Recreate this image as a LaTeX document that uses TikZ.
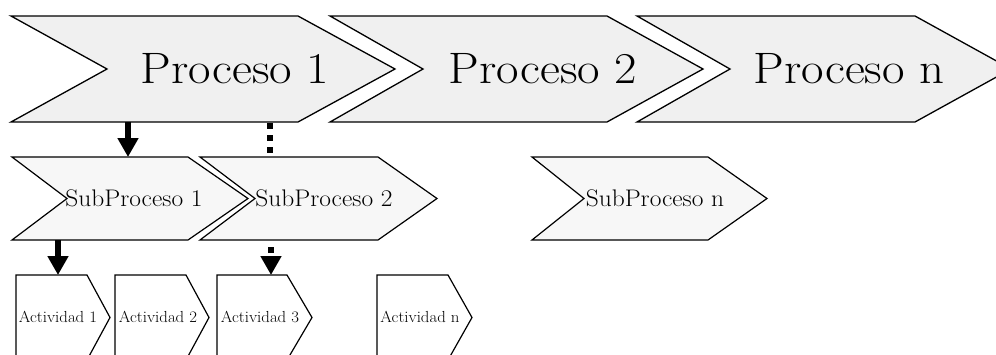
\documentclass[tikz,border=0pt]{standalone}
\usetikzlibrary{arrows.meta}
\newcommand\chevshape[7]{%
  \draw[#7] (#1,#5) -- (#3,#5) -- ({#3+#4},{(#5+#6)/2}) -- (#3,#6) -- (#1,#6) -- ({#1+#2},{(#5+#6)/2}) -- cycle;}
\newcommand\wide[2]{\scalebox{#1}[1]{#2}}
\begin{document}
\begin{tikzpicture}[x=1pt,y=-1pt,
  proc/.style={draw=black,line width=1.3pt,fill=gray!12},
  subp/.style={draw=black,line width=1.2pt,fill=gray!6},
  actv/.style={draw=black,line width=1.2pt,fill=white},
  ptext/.style={inner sep=0pt,font=\fontsize{44}{50}\selectfont},
  stext/.style={inner sep=0pt,font=\fontsize{24}{28}\selectfont},
  atext/.style={inner sep=0pt,font=\fontsize{16}{18}\selectfont},
  solidarrow/.style={line width=5.5pt,-{Triangle[width=20pt,length=19pt]}},
  dotline/.style={line width=6pt,dash pattern=on 6pt off 6pt},
  dotarrow/.style={line width=6pt,dash pattern=on 6pt off 6pt,dash phase=6pt,-{Triangle[width=20pt,length=19pt]}}]
\useasboundingbox (0,0) rectangle (996,354);
\begin{scope}
\clip (0,0) rectangle (996,354);
% processes
\chevshape{11}{96}{298}{97}{16}{122}{proc}
\chevshape{330}{93}{607}{96}{16}{122}{proc}
\chevshape{637}{93}{915}{96}{16}{122}{proc}
\node[ptext] (p1) at (235,69) {\wide{1.11}{Proceso 1}};
\node[ptext] (p2) at (543,69) {\wide{1.11}{Proceso 2}};
\node[ptext] (pn) at (849,69) {\wide{1.11}{Proceso n}};
% subprocesses
\chevshape{12}{55}{188}{60}{157}{240}{subp}
\chevshape{200}{55}{378}{59}{157}{240}{subp}
\chevshape{532}{52}{708}{59}{157}{240}{subp}
\node[stext] (s1) at (134,198) {\wide{1.06}{SubProceso 1}};
\node[stext] (s2) at (324,198) {\wide{1.06}{SubProceso 2}};
\node[stext] (sn) at (655,198) {\wide{1.06}{SubProceso n}};
% activities
\chevshape{16}{0}{87}{23}{275}{360}{actv}
\chevshape{115}{0}{186}{23}{275}{360}{actv}
\chevshape{217}{0}{287}{25}{275}{360}{actv}
\chevshape{377}{0}{448}{24}{275}{360}{actv}
\node[atext] (a1) at (58,317) {\wide{1.05}{Actividad 1}};
\node[atext] (a2) at (158,317) {\wide{1.05}{Actividad 2}};
\node[atext] (a3) at (260,317) {\wide{1.05}{Actividad 3}};
\node[atext] (an) at (420,317) {\wide{1.05}{Actividad n}};
\end{scope}
% connector anchors
\coordinate (p1out) at (128,122);
\coordinate (s1in) at (128,157);
\coordinate (p1dot) at (270,123);
\coordinate (s2top) at (270,154);
\coordinate (s1out) at (58,240);
\coordinate (a1in) at (58,275);
\coordinate (s2out) at (271,241);
\coordinate (a3in) at (271,275);
\draw[solidarrow] (p1out) -- (s1in);
\draw[dotline] (p1dot) -- (s2top);
\draw[solidarrow] (s1out) -- (a1in);
\draw[dotarrow] (s2out) -- (a3in);
\end{tikzpicture}
\end{document}
